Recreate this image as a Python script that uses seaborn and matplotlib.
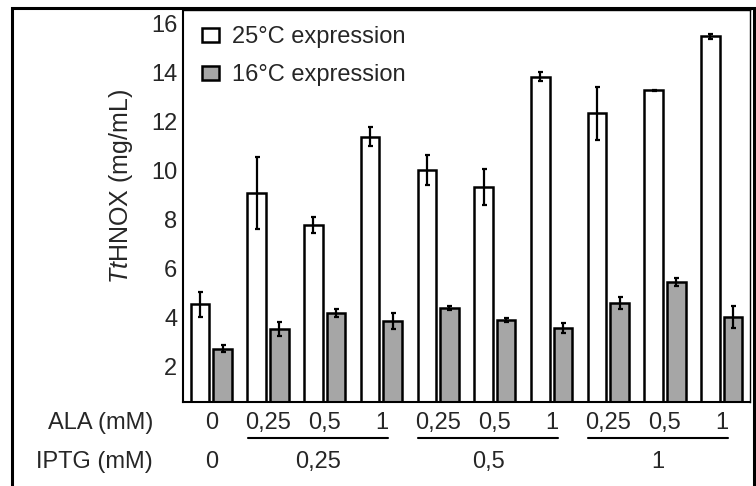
import pandas as pd
import matplotlib.pyplot as plt
import seaborn as sns
from matplotlib.patches import Rectangle
from matplotlib.lines import Line2D

# values
ala_labels = ['0', '0,25', '0,5', '1', '0,25', '0,5', '1', '0,25', '0,5', '1']
iptg_labels = ['0', '0,25', '0,5', '1']
iptg_groups = [[0], [1, 2, 3], [4, 5, 6], [7, 8, 9]]
expr_25 = [4.55, 9.1, 7.8, 11.4, 10.05, 9.35, 13.85, 12.35, 13.3, 15.5]
err_25 = [0.52, 1.47, 0.33, 0.38, 0.62, 0.72, 0.17, 1.07, 0.02, 0.1]
expr_16 = [2.75, 3.55, 4.2, 3.88, 4.4, 3.92, 3.6, 4.6, 5.47, 4.05]
err_16 = [0.14, 0.3, 0.16, 0.34, 0.07, 0.07, 0.2, 0.24, 0.18, 0.45]
series = ['25°C expression', '16°C expression']

sns.set_theme(style='white')
plt.rcParams['font.family'] = ['Liberation Sans', 'DejaVu Sans']
plt.rcParams['mathtext.fontset'] = 'custom'
plt.rcParams['mathtext.rm'] = 'Liberation Sans'
plt.rcParams['mathtext.it'] = 'Liberation Sans:italic'

conds = [f'c{i}' for i in range(len(ala_labels))]
df = pd.DataFrame({
    'cond': conds * 2,
    'series': [series[0]] * len(conds) + [series[1]] * len(conds),
    'value': expr_25 + expr_16,
})
errs = {series[0]: err_25, series[1]: err_16}

fig = plt.figure(figsize=(7.56, 4.86), dpi=100)
ax = fig.add_axes([183 / 756, 1 - 402 / 486, 567 / 756, 392 / 486])

sns.barplot(data=df, x='cond', y='value', hue='series', order=conds,
            hue_order=series, palette=['white', '#a6a6a6'], width=0.8,
            gap=0.18, edgecolor='black', linewidth=1.8, errorbar=None,
            saturation=1, ax=ax)

# error bars at the bar centres
for cont, name in zip(ax.containers, series):
    xs = [b.get_x() + b.get_width() / 2 for b in cont]
    hs = [b.get_height() for b in cont]
    ax.errorbar(xs, hs, yerr=errs[name], fmt='none', ecolor='black',
                elinewidth=1.6, capsize=1.8, capthick=1.6, zorder=5)

ax.set_xlim(-0.5, 9.5)
ax.set_ylim(0.57, 16.57)
ax.set_yticks(range(2, 17, 2))
ax.tick_params(axis='y', length=0, pad=4, labelsize=17)
ax.set_xticks([])
ax.set_xlabel('')
ax.set_ylabel(r'$\mathit{Tt}$HNOX (mg/mL)', fontsize=18)
ax.yaxis.set_label_coords(-0.085, 0.55)
for s in ['left', 'bottom']:
    ax.spines[s].set_linewidth(1.5)
for s in ['top', 'right']:
    ax.spines[s].set_linewidth(1.0)
for s in ax.spines.values():
    s.set_color('black')

leg = ax.legend(loc='upper left', bbox_to_anchor=(0.008, 0.995), frameon=False,
                fontsize=17, handlelength=0.75, handleheight=0.55,
                handletextpad=0.55, labelspacing=0.68, borderaxespad=0.2)
for h in leg.legend_handles:
    h.set_edgecolor('black')
    h.set_linewidth(1.8)

# condition labels under the axis
tr = ax.get_xaxis_transform()
ax.text(-0.053, -0.0536, 'ALA (mM)', transform=ax.transAxes, ha='right',
        va='center', fontsize=17)
ax.text(-0.053, -0.153, 'IPTG (mM)', transform=ax.transAxes, ha='right',
        va='center', fontsize=17)
for i, lab in enumerate(ala_labels):
    ax.text(i, -0.0536, lab, transform=tr, ha='center', va='center', fontsize=17)
for grp, lab in zip(iptg_groups, iptg_labels):
    if len(grp) > 1:
        x0, x1 = grp[0] - 0.36, grp[-1] + 0.12
        ax.add_line(Line2D([x0, x1], [-0.092, -0.092], transform=tr,
                           color='black', lw=1.5, clip_on=False))
        xc = (x0 + x1) / 2
    else:
        xc = grp[0]
    ax.text(xc, -0.153, lab, transform=tr, ha='center', va='center', fontsize=17)

# outer frame of the figure panel
fig.patches.append(Rectangle((12 / 756, -0.05), 742 / 756, 1.05 - 8 / 486,
                             transform=fig.transFigure, fill=False,
                             edgecolor='black', linewidth=2.2))

fig.savefig('out.png', dpi=100)
